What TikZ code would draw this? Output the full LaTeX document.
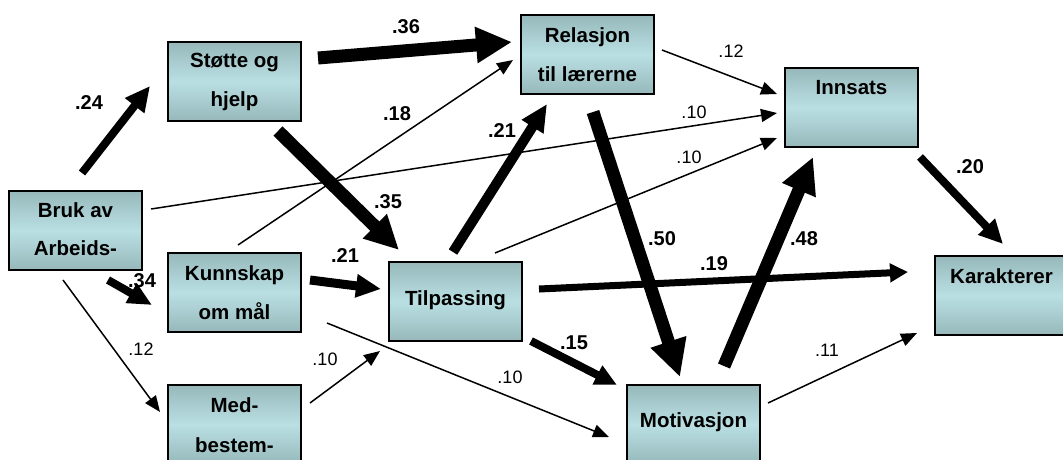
\documentclass[tikz,border=0pt]{standalone}
\usepackage{fontspec}
\setmainfont{Liberation Sans}
\usetikzlibrary{arrows.meta,calc}
\definecolor{boxdark}{RGB}{150,184,186}
\definecolor{boxlight}{RGB}{186,224,228}
\tikzset{
  box/.style={draw=black, line width=1.5pt, anchor=north west, inner sep=0pt, outer sep=0pt,
    minimum width=133pt, minimum height=79pt,
    top color=boxdark, bottom color=boxdark, middle color=boxlight},
  boxtext/.style={anchor=base, inner sep=0pt, font=\bfseries\fontsize{20.5}{24}\selectfont},
  blab/.style={anchor=base, inner sep=0pt, font=\bfseries\fontsize{20}{24}\selectfont},
  rlab/.style={anchor=base, inner sep=0pt, font=\fontsize{18}{22}\selectfont},
  conn/.style n args={3}{draw=black, line width=#1, -{Triangle[length=#2,width=#3]}},
  thin/.style={conn={1.5pt}{16pt}{13pt}},
}
\begin{document}
\begin{tikzpicture}[x=1pt,y=-1pt]
\useasboundingbox (0,0) rectangle (1063,459);
\clip (0,0) rectangle (1063,459);
\fill[white] (0,0) rectangle (1063,459);
% boxes
\node[box] (stotte) at (168,42) {};
\node[box] (relasjon) at (521,15) {};
\node[box] (innsats) at (785,68) {};
\node[box] (bruk) at (9,191) {};
\node[box] (kunnskap) at (168,253) {};
\node[box] (med) at (168,385) {};
\node[box] (tilpassing) at (389,262) {};
\node[box] (motivasjon) at (627,385) {};
\node[box] (karakterer) at (935,256) {};
% box texts
\node[boxtext] (t1a) at ($(stotte.north)+(0,25)$) {Støtte og};
\node[boxtext] (t1b) at ($(stotte.north)+(0,64)$) {hjelp};
\node[boxtext] (t2a) at ($(relasjon.north)+(0,27)$) {Relasjon};
\node[boxtext] (t2b) at ($(relasjon.north)+(0,66)$) {til lærerne};
\node[boxtext] (t3a) at ($(innsats.north)+(0,26)$) {Innsats};
\node[boxtext] (t4a) at ($(bruk.north)+(0,26)$) {Bruk av};
\node[boxtext] (t4b) at ($(bruk.north)+(0,64)$) {Arbeids-};
\node[boxtext] (t5a) at ($(kunnskap.north)+(0,27)$) {Kunnskap};
\node[boxtext] (t5b) at ($(kunnskap.north)+(0,66)$) {om mål};
\node[boxtext] (t6a) at ($(med.north)+(0,27)$) {Med-};
\node[boxtext] (t6b) at ($(med.north)+(0,67)$) {bestem-};
\node[boxtext] (t7a) at ($(tilpassing.north)+(0,43)$) {Tilpassing};
\node[boxtext] (t8a) at ($(motivasjon.north)+(0,42)$) {Motivasjon};
\node[boxtext] (t9a) at ($(karakterer.north)+(0,27)$) {Karakterer};
% connector end points
\coordinate (s24) at (82,173);   \coordinate (e24) at (150,86);
\coordinate (s36) at (318,58);   \coordinate (e36) at (512,42);
\coordinate (s35) at (278,131);  \coordinate (e35) at (399,250);
\coordinate (s18) at (238,245);  \coordinate (e18) at (513,60);
\coordinate (s10a) at (151,209); \coordinate (e10a) at (777,113);
\coordinate (s21a) at (453,252); \coordinate (e21a) at (547,104);
\coordinate (s10b) at (495,253); \coordinate (e10b) at (777,138);
\coordinate (s12a) at (662,50);  \coordinate (e12a) at (777,94);
\coordinate (s50) at (593,112);  \coordinate (e50) at (680,377);
\coordinate (s21b) at (310,280); \coordinate (e21b) at (381,289);
\coordinate (s34) at (108,280);  \coordinate (e34) at (152,305);
\coordinate (s12b) at (63,280);  \coordinate (e12b) at (160,412);
\coordinate (s10c) at (310,403); \coordinate (e10c) at (380,351);
\coordinate (s10d) at (327,323); \coordinate (e10d) at (609,437);
\coordinate (s15) at (531,341);  \coordinate (e15) at (617,385);
\coordinate (s19) at (539,289);  \coordinate (e19) at (908,272);
\coordinate (s48) at (724,366);  \coordinate (e48) at (813,157);
\coordinate (s11) at (768,403);  \coordinate (e11) at (917,333);
\coordinate (s20) at (920,157);  \coordinate (e20) at (1003,244);
% connectors
\draw[conn={8pt}{25pt}{23pt}] (s24) -- (e24);
\draw[conn={13pt}{36pt}{34pt}] (s36) -- (e36);
\draw[conn={13pt}{34pt}{32pt}] (s35) -- (e35);
\draw[thin] (s18) -- (e18);
\draw[thin] (s10a) -- (e10a);
\draw[conn={10pt}{27pt}{24pt}] (s21a) -- (e21a);
\draw[thin] (s10b) -- (e10b);
\draw[thin] (s12a) -- (e12a);
\draw[conn={13pt}{37pt}{35pt}] (s50) -- (e50);
\draw[conn={9pt}{25pt}{22pt}] (s21b) -- (e21b);
\draw[conn={8pt}{24pt}{21pt}] (s34) -- (e34);
\draw[thin] (s12b) -- (e12b);
\draw[thin] (s10c) -- (e10c);
\draw[thin] (s10d) -- (e10d);
\draw[conn={8pt}{22pt}{20pt}] (s15) -- (e15);
\draw[conn={7pt}{18pt}{18pt}] (s19) -- (e19);
\draw[conn={13pt}{36pt}{34pt}] (s48) -- (e48);
\draw[thin] (s11) -- (e11);
\draw[conn={8pt}{24pt}{22pt}] (s20) -- (e20);
% labels
\node[blab] (l24) at (89,109) {.24};
\node[blab] (l36) at (406,33) {.36};
\node[blab] (l35) at (388,208) {.35};
\node[blab] (l18) at (397,120) {.18};
\node[rlab] (l10a) at (694,118) {.10};
\node[blab] (l21a) at (502,137) {.21};
\node[rlab] (l10b) at (689,163) {.10};
\node[rlab] (l12a) at (731,57) {.12};
\node[blab] (l50) at (662,245) {.50};
\node[blab] (l21b) at (345,262) {.21};
\node[blab] (l34) at (142,287) {.34};
\node[rlab] (l12b) at (141,355) {.12};
\node[rlab] (l10c) at (325,365) {.10};
\node[rlab] (l10d) at (510,383) {.10};
\node[blab] (l15) at (574,349) {.15};
\node[blab] (l19) at (714,270) {.19};
\node[blab] (l48) at (804,245) {.48};
\node[rlab] (l11) at (827,356) {.11};
\node[blab] (l20) at (970,173) {.20};
\end{tikzpicture}
\end{document}
